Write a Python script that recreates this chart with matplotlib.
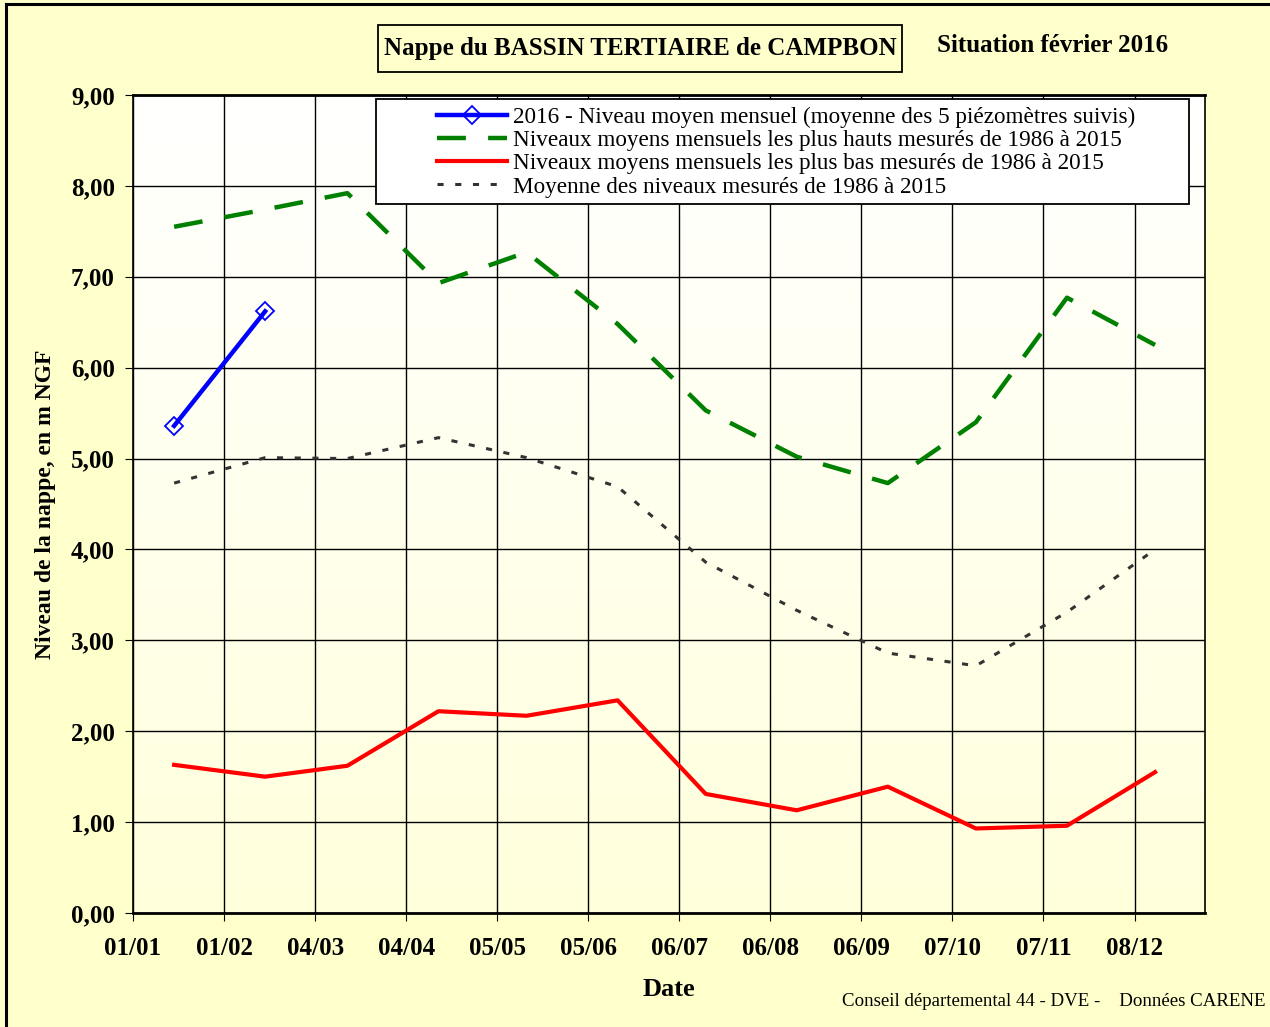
import numpy as np
import pandas as pd
import matplotlib
matplotlib.use('Agg')
import matplotlib.pyplot as plt
import matplotlib.dates as mdates
from matplotlib.patches import Rectangle
from matplotlib.ticker import FuncFormatter

plt.rcParams['font.family'] = ['Liberation Serif', 'DejaVu Serif']

# dates de mesure (le 15 de chaque mois, annee type non bissextile)
months = pd.to_datetime(['2015-%02d-15' % m for m in range(1, 13)])
months_2016 = months[:2]

niveau_2016 = [5.36, 6.62]
niveau_haut = [7.55, 7.74, 7.92, 6.93, 7.27, 6.48, 5.53, 5.02, 4.73, 5.40, 6.77, 6.25]
niveau_bas = [1.63, 1.50, 1.62, 2.22, 2.17, 2.34, 1.31, 1.13, 1.39, 0.93, 0.96, 1.55]
niveau_moyen = [4.73, 5.01, 5.00, 5.23, 5.01, 4.69, 3.86, 3.33, 2.86, 2.72, 3.31, 4.00]

tick_dates = pd.date_range('2015-01-01', periods=12, freq='31D')
y_ticks = np.arange(0, 10, 1)

labels = ['2016 - Niveau moyen mensuel (moyenne des 5 piézomètres suivis)',
          'Niveaux moyens mensuels les plus hauts mesurés de 1986 à 2015',
          'Niveaux moyens mensuels les plus bas mesurés de 1986 à 2015',
          'Moyenne des niveaux mesurés de 1986 à 2015']

W, H = 1270, 1027
fig = plt.figure(figsize=(12.7, 10.27), dpi=100, facecolor='#FFFFCC')
ax = fig.add_axes([133/W, 1-913/H, (1205-133)/W, (913-95)/H])

# fond degrade blanc -> jaune pale
grad = np.linspace(0, 1, 256).reshape(-1, 1)
cmap = matplotlib.colors.LinearSegmentedColormap.from_list('bg', ['#FFFFFF', '#FFFFDC'])
ax.imshow(grad, aspect='auto', cmap=cmap, extent=[0, 1, 0, 1],
          transform=ax.transAxes, zorder=0)

ax.plot(months, niveau_haut, color='#008000', lw=3.2, dashes=(6.5, 5),
        label=labels[1], zorder=3)
ax.plot(months, niveau_bas, color='#FF0000', lw=3.0, label=labels[2], zorder=3)
ax.plot(months, niveau_moyen, color='#333333', lw=2.2, dashes=(2.0, 3.8),
        label=labels[3], zorder=3)
ax.plot(months_2016, niveau_2016, color='#0000FF', lw=3.2, marker='D',
        markersize=9, markerfacecolor='none', markeredgecolor='#0000FF',
        markeredgewidth=1.3, label=labels[0], zorder=4)

ax.set_xlim(pd.Timestamp('2015-01-01'), pd.Timestamp('2016-01-01'))
ax.set_ylim(0, 9)
ax.set_xticks(tick_dates)
ax.xaxis.set_major_formatter(mdates.DateFormatter('%d/%m'))
ax.set_yticks(y_ticks)
ax.yaxis.set_major_formatter(FuncFormatter(lambda v, p: '{:.2f}'.format(v).replace('.', ',')))
ax.grid(True, color='black', lw=1.0)
ax.set_axisbelow(True)
for lab in ax.get_xticklabels() + ax.get_yticklabels():
    lab.set_fontweight('bold')
    lab.set_fontsize(18)
ax.tick_params(axis='x', length=6, pad=11, direction='out', color='black')
ax.tick_params(axis='y', length=6, pad=7, direction='out', color='black')
for s in ax.spines.values():
    s.set_linewidth(1.2)
ax.spines['bottom'].set_linewidth(2.0)
ax.spines['top'].set_linewidth(2.0)

ax.set_xlabel('Date', fontsize=19, fontweight='bold', labelpad=13)
ax.set_ylabel('Niveau de la nappe, en m NGF', fontsize=17, fontweight='bold', labelpad=11)

# cadre de la legende
fig.patches.append(Rectangle((376/W, 1-204/H), (1189-376)/W, (204-99)/H,
                             transform=fig.transFigure, facecolor='white',
                             edgecolor='black', lw=1.3, zorder=9))
h, l = ax.get_legend_handles_labels()
order = [3, 0, 1, 2]
leg = fig.legend([h[i] for i in order], [l[i] for i in order], loc='upper left',
                 bbox_to_anchor=(437/W, 1-107/H), fontsize=16.7, frameon=False,
                 handlelength=3.0, borderpad=0, labelspacing=0.08, handletextpad=0.27,
                 borderaxespad=0)
leg.set_zorder(10)

# titre encadre
fig.patches.append(Rectangle((378/W, 1-72/H), (902-378)/W, (72-25)/H,
                             transform=fig.transFigure, facecolor='#FFFFCC',
                             edgecolor='black', lw=1.3))
fig.text(640/W, 1-48/H, 'Nappe du BASSIN TERTIAIRE de CAMPBON', fontsize=18,
         fontweight='bold', ha='center', va='center')
fig.text(1053/W, 1-45/H, 'Situation février 2016', fontsize=18,
         fontweight='bold', ha='center', va='center')
fig.text(1265/W, 1-1001/H, 'Conseil départemental 44 - DVE -    Données CARENE',
         fontsize=13.6, ha='right', va='center')

# bordure exterieure (haut et gauche visibles)
fig.patches.append(Rectangle((6/W, -0.01), 1.02, 1-4/H + 0.01, transform=fig.transFigure,
                             fill=False, edgecolor='black', lw=2.2))

plt.savefig('out.png', dpi=100, facecolor=fig.get_facecolor())
